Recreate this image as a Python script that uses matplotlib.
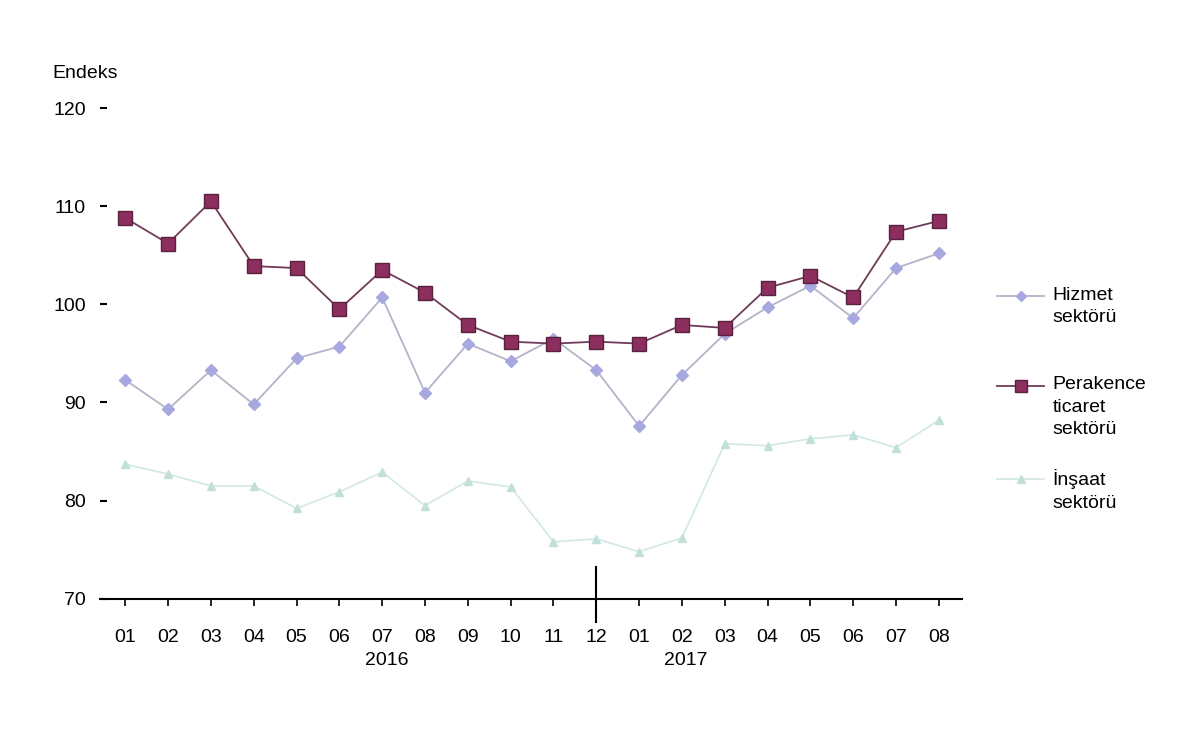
import matplotlib.pyplot as plt
from matplotlib.lines import Line2D

plt.rcParams['font.family'] = ['Liberation Sans', 'DejaVu Sans']

# --- Data (index, 2016-01 .. 2017-08) ---
months = ['01', '02', '03', '04', '05', '06', '07', '08', '09', '10', '11', '12',
          '01', '02', '03', '04', '05', '06', '07', '08']
hizmet = [92.3, 89.3, 93.3, 89.8, 94.5, 95.7, 100.7, 91.0, 96.0, 94.2, 96.5, 93.3,
          87.6, 92.8, 97.0, 99.7, 101.9, 98.6, 103.7, 105.2]
perakende = [108.8, 106.2, 110.5, 103.9, 103.7, 99.5, 103.5, 101.2, 97.9, 96.2, 96.0, 96.2,
             96.0, 97.9, 97.6, 101.7, 102.9, 100.7, 107.4, 108.5]
insaat = [83.7, 82.7, 81.5, 81.5, 79.2, 80.9, 82.9, 79.5, 82.0, 81.4, 75.8, 76.1,
          74.8, 76.2, 85.8, 85.6, 86.3, 86.7, 85.4, 88.2]
years = ['2016', '2017']
legend_labels = ['Hizmet\nsektörü', 'Perakence\nticaret\nsektörü', 'İnşaat\nsektörü']

x = list(range(len(months)))

fig = plt.figure(figsize=(12, 7.56), dpi=100)
ax = fig.add_axes([0.083, 0.208, 0.719, 0.649])

# --- Series styles ---
styles = [
    dict(marker='D', color='#b4b4c8', lw=1.3, ms=6, mfc='#a8a8e0', mec='#a8a8e0'),
    dict(marker='s', color='#6e3c58', lw=1.3, ms=10, mfc='#8c2e5e', mec='#5a2040'),
    dict(marker='^', color='#d2e8e4', lw=1.2, ms=6, mfc='#c2e0da', mec='#c2e0da'),
]
ax.plot(x, insaat, **styles[2])
ax.plot(x, hizmet, **styles[0])
ax.plot(x, perakende, **styles[1])

# --- Axes styling ---
ax.set_xlim(-0.6, 19.55)
ax.set_ylim(70, 120)
ax.set_yticks([70, 80, 90, 100, 110, 120])
for s in ['top', 'right', 'left']:
    ax.spines[s].set_visible(False)
ax.spines['bottom'].set_linewidth(1.5)
ax.tick_params(axis='y', length=5, width=1.5, labelsize=14, pad=10, direction='in')
ax.tick_params(axis='x', length=5, width=1.2, labelsize=14, pad=17, direction='out')
ax.set_xticks(x)
ax.set_xticklabels(months)

# year divider
ax.plot([11, 11], [73.2, 67.6], color='black', lw=1.5, clip_on=False)

# year labels
ax.text(6.1, 63.7, years[0], ha='center', va='center', fontsize=14)
ax.text(13.1, 63.7, years[1], ha='center', va='center', fontsize=14)

ax.text(-1.7, 123.5, 'Endeks', ha='left', va='center', fontsize=14)

# --- Legend on the right (handle next to first text line) ---
leg_y = [0.609, 0.490, 0.367]  # figure fractions of first line
for st, lab, yy in zip(styles, legend_labels, leg_y):
    fig.add_artist(Line2D([0.831, 0.870], [yy, yy], transform=fig.transFigure,
                          color=st['color'], lw=st['lw']))
    fig.add_artist(Line2D([0.8505], [yy], transform=fig.transFigure, ls='none',
                          marker=st['marker'], ms=st['ms'] * 0.9,
                          mfc=st['mfc'], mec=st['mec']))
    fig.text(0.877, yy + 0.012, lab, ha='left', va='top', fontsize=14,
             linespacing=1.4)

fig.savefig('out.png', dpi=100)
